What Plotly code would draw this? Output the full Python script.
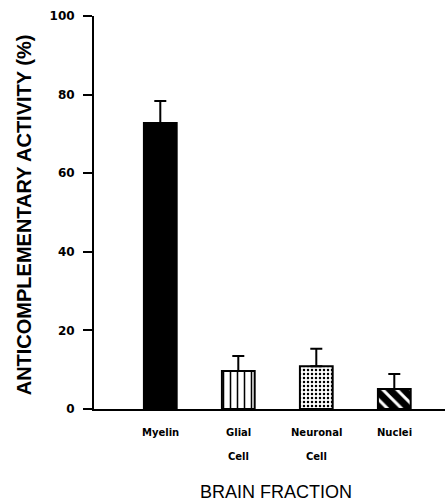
import plotly.graph_objects as go

categories = ["Myelin", "Glial Cell", "Neuronal Cell", "Nuclei"]
label_line1 = ["Myelin", "Glial", "Neuronal", "Nuclei"]
label_line2 = ["", "Cell", "Cell", ""]
activity = [72.8, 9.7, 10.9, 5.1]
sem = [5.6, 3.8, 4.4, 3.8]
y_ticks = [0, 20, 40, 60, 80, 100]

x_idx = list(range(len(categories)))

# per-bar fill styles
shapes = ["", "|", ".", "\\"]
fg = ["black", "black", "black", "white"]
bg = ["black", "white", "white", "black"]
psize = [8, 7, 4, 10]
psolid = [0.3, 0.22, 0.3, 0.3]

fig = go.Figure()
for i in x_idx:
    pattern = dict(shape=shapes[i], fgcolor=fg[i], bgcolor=bg[i],
                   size=psize[i], solidity=psolid[i], fillmode="replace") if shapes[i] else None
    fig.add_trace(go.Bar(
        x=[x_idx[i]],
        y=[activity[i]],
        width=0.42,
        name=categories[i],
        marker=dict(
            color=bg[i],
            line=dict(color="black", width=2),
            pattern=pattern,
        ),
        error_y=dict(
            type="data", symmetric=False, array=[sem[i]], arrayminus=[0],
            color="black", thickness=2, width=6,
        ),
    ))

font_tick = dict(family="DejaVu Sans", size=12, color="black", weight="bold")

fig.update_layout(
    width=447, height=503,
    margin=dict(l=94, r=2, t=16, b=94),
    paper_bgcolor="white", plot_bgcolor="white",
    showlegend=False,
    barmode="overlay",
    xaxis=dict(
        range=[-0.85, 3.65], showgrid=False, zeroline=False,
        showline=True, linecolor="black", linewidth=2,
        showticklabels=False, ticks="",
    ),
    yaxis=dict(
        range=[0, 100], tickvals=y_ticks, showgrid=False, zeroline=False,
        showline=True, linecolor="black", linewidth=2,
        ticks="outside", ticklen=9, tickwidth=2, tickcolor="black",
        tickfont=font_tick, ticklabelstandoff=6,
    ),
)

lab_font = dict(family="DejaVu Sans", size=10, color="black", weight="bold")
for i, (a, b) in enumerate(zip(label_line1, label_line2)):
    fig.add_annotation(x=x_idx[i], y=-0.061, xref="x", yref="paper", text=a,
                       showarrow=False, font=lab_font, xanchor="center", yanchor="middle")
    if b:
        fig.add_annotation(x=x_idx[i], y=-0.122, xref="x", yref="paper", text=b,
                           showarrow=False, font=lab_font, xanchor="center", yanchor="middle")

fig.add_annotation(x=-0.197, y=0.495, xref="paper", yref="paper",
                   text="ANTICOMPLEMENTARY ACTIVITY (%)", textangle=-90,
                   showarrow=False, xanchor="center", yanchor="middle",
                   font=dict(family="Liberation Sans", size=20, color="black", weight="bold"))
fig.add_annotation(x=0.5185, y=-0.211, xref="paper", yref="paper",
                   text="BRAIN FRACTION", showarrow=False,
                   xanchor="center", yanchor="middle",
                   font=dict(family="Liberation Sans", size=18, color="black"))

fig.write_html("out.html")
